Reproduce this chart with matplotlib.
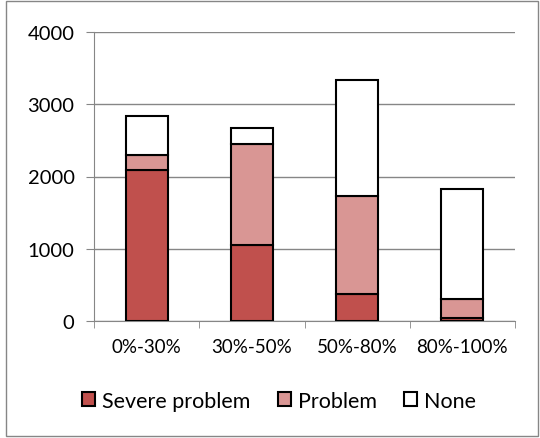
import matplotlib
matplotlib.use('Agg')

import matplotlib.pyplot as plt
import numpy as np

categories = ['0%-30%', '30%-50%', '50%-80%', '80%-100%']
severe = [2094, 1052, 368, 42]
problem = [208, 1402, 1357, 267]
none = [535, 217, 1615, 1513]

fig = plt.figure(figsize=(5.4, 4.39), dpi=100)
plt.rcParams['font.family'] = ['Lato', 'DejaVu Sans']
ax = fig.add_axes([94 / 540, 1 - 322 / 439, 421 / 540, 289 / 439])

x = np.arange(len(categories))
w = 0.4
kw = dict(width=w, edgecolor='black', linewidth=1.5, zorder=3)
ax.bar(x, severe, color='#c0504d', label='Severe problem', **kw)
ax.bar(x, problem, bottom=severe, color='#d99694', label='Problem', **kw)
bot2 = np.array(severe) + np.array(problem)
ax.bar(x, none, bottom=bot2, color='white', label='None', **kw)

ax.set_xlim(-0.5, 3.5)
ax.set_ylim(0, 4000)
ax.set_yticks([0, 1000, 2000, 3000, 4000])
ax.yaxis.grid(True, color='#868686', linewidth=1)
ax.set_axisbelow(True)
ax.set_xticks(x)
ax.set_xticklabels(categories)
ax.set_xticks(np.arange(-0.5, 4, 1), minor=True)
ax.tick_params(axis='x', which='major', length=0, pad=12, labelsize=13.5)
ax.tick_params(axis='x', which='minor', length=5, color='#868686')
ax.tick_params(axis='y', length=6, color='#868686', labelsize=14.5, pad=8)
for s in ['top', 'right']:
    ax.spines[s].set_visible(False)
for s in ['left', 'bottom']:
    ax.spines[s].set_color('#868686')

leg = fig.legend(loc='center', bbox_to_anchor=(0.517, 1 - 402 / 439), ncol=3,
                 frameon=False, fontsize=15.5, handlelength=0.62, handleheight=0.62,
                 handletextpad=0.33, columnspacing=1.25)

fig.patches.append(plt.Rectangle((0.012, 0.005), 0.985, 0.99, transform=fig.transFigure,
                                 fill=False, edgecolor='#868686', linewidth=1))

plt.savefig('out.png', dpi=100)
plt.close()
